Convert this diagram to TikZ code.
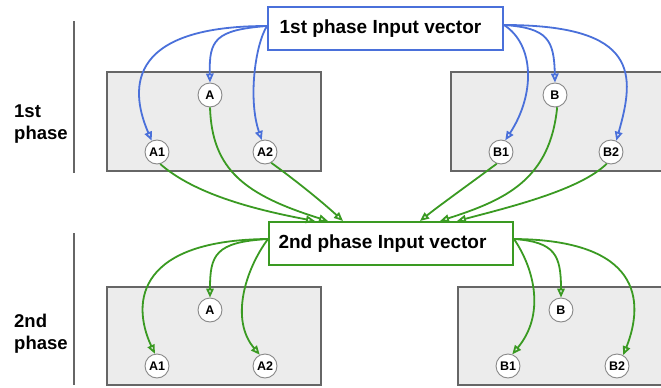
\documentclass[tikz,border=0pt]{standalone}
\usepackage{fontspec}
\setmainfont{Liberation Sans}
\usetikzlibrary{arrows.meta}
\definecolor{bl}{HTML}{4A70DA}
\definecolor{gr}{HTML}{3A9A22}
\definecolor{bx}{HTML}{ECECEC}
\definecolor{bd}{HTML}{666666}
\definecolor{cb}{HTML}{888888}
\begin{document}
\begin{tikzpicture}[x=1pt,y=-1pt,
  inbox/.style={draw, line width=2pt, fill=white, inner sep=0pt, font=\bfseries\fontsize{19}{22}\selectfont},
  grbox/.style={draw=bd, line width=1.8pt, fill=bx, inner sep=0pt},
  cn/.style={circle, draw=cb, line width=0.9pt, fill=white, minimum size=24pt, inner sep=0pt, font=\bfseries\fontsize{12.5}{14}\selectfont},
  lbl/.style={anchor=base west, inner sep=0pt, font=\bfseries\fontsize{18.5}{22}\selectfont},
  vline/.style={draw=bd, line width=1.6pt},
  conn/.style={line width=1.8pt, -{Triangle[open,length=9pt,width=7.5pt]}},
  barr/.style={conn, draw=bl},
  garr/.style={conn, draw=gr}]
\useasboundingbox (0,0) rectangle (661,388);
\clip (0,0) rectangle (661,388);

% phase labels and separators
\node[lbl] (l1a) at (14,117) {1st};
\node[lbl] (l1b) at (14,139) {phase};
\node[lbl] (l2a) at (14,327) {2nd};
\node[lbl] (l2b) at (14,349) {phase};
\coordinate (v1t) at (74,21); \coordinate (v1b) at (74,173);
\coordinate (v2t) at (74,233); \coordinate (v2b) at (74,385);
\draw[vline] (v1t) -- (v1b);
\draw[vline] (v2t) -- (v2b);

% gray boxes
\node[grbox, minimum width=214pt, minimum height=99pt] (g1l) at (214,121.5) {};
\node[grbox, minimum width=214pt, minimum height=99pt] (g1r) at (558,121.5) {};
\node[grbox, minimum width=214pt, minimum height=98pt] (g2l) at (214,336) {};
\node[grbox, minimum width=208pt, minimum height=98pt] (g2r) at (562,336) {};

% input boxes
\node[inbox, draw=bl, minimum width=235pt, minimum height=43pt] (in1) at (385.5,28.5) {1st phase Input vector\hspace*{10pt}};
\node[inbox, draw=gr, minimum width=244pt, minimum height=43pt] (in2) at (391,243.5) {2nd phase Input vector\hspace*{17pt}};

% circles
\node[cn] (a)  at (210,95)  {A};
\node[cn] (a1) at (157,152) {A1};
\node[cn] (a2) at (265,152) {A2};
\node[cn] (b)  at (555,95)  {B};
\node[cn] (b1) at (501,152) {B1};
\node[cn] (b2) at (611,152) {B2};
\node[cn] (ab)  at (210,310) {A};
\node[cn] (a1b) at (157,366) {A1};
\node[cn] (a2b) at (265,366) {A2};
\node[cn] (bb)  at (561,310) {B};
\node[cn] (b1b) at (508,366) {B1};
\node[cn] (b2b) at (617,366) {B2};

% start points
\coordinate (s1l) at ([yshift=2.5pt]in1.west);
\coordinate (s1r) at ([yshift=3.5pt]in1.east);
\coordinate (s2l) at ([yshift=4.5pt]in2.west);
\coordinate (s2r) at ([yshift=4.5pt]in2.east);

% blue arrows
\draw[barr] (s1l) .. controls (120,26) and (132,95) .. (a1.115);
\draw[barr] (s1l) .. controls (215,30) and (209,40) .. (a.north);
\draw[barr] (s1l) .. controls (255,45) and (248,100) .. (a2.105);
\draw[barr] (s1r) .. controls (535,45) and (535,95) .. (b1.70);
\draw[barr] (s1r) .. controls (548,28) and (554,40) .. (b.north);
\draw[barr] (s1r) .. controls (640,25) and (635,75) .. (b2.65);

% green arrows into second input
\draw[garr] (a1.-75) .. controls (190,190) and (240,207) .. ([xshift=-76pt]in2.north);
\draw[garr] (a.south) .. controls (212,170) and (245,195) .. ([xshift=-63pt]in2.north);
\draw[garr] (a2.-60) .. controls (295,180) and (320,200) .. ([xshift=-48pt]in2.north);
\draw[garr] (b1.-110) .. controls (475,180) and (440,205) .. ([xshift=29pt]in2.north);
\draw[garr] (b.-80) .. controls (550,180) and (505,200) .. ([xshift=49pt]in2.north);
\draw[garr] (b2.-110) .. controls (580,190) and (510,207) .. ([xshift=66pt]in2.north);

% green arrows out of second input
\draw[garr] (s2l) .. controls (140,240) and (130,300) .. (a1b.100);
\draw[garr] (s2l) .. controls (215,242) and (210,255) .. (ab.north);
\draw[garr] (s2l) .. controls (245,270) and (230,320) .. (a2b.115);
\draw[garr] (s2r) .. controls (535,270) and (545,315) .. (b1b.70);
\draw[garr] (s2r) .. controls (555,242) and (561,255) .. (bb.north);
\draw[garr] (s2r) .. controls (640,240) and (645,300) .. (b2b.60);
\end{tikzpicture}
\end{document}
